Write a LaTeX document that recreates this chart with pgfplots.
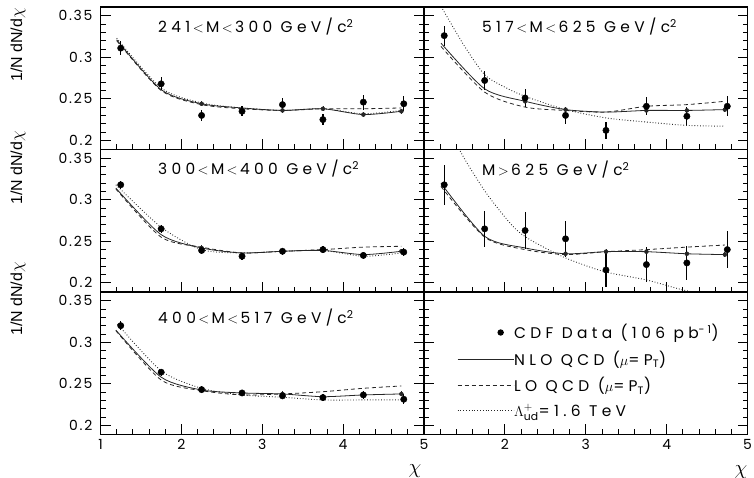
\documentclass[border=0pt]{standalone}
\usepackage{pgfplots}
\pgfplotsset{compat=1.18}
\usepackage{fontspec}
\setmainfont{Poppins}[LetterSpace=28]
\newfontfamily\tickfont{Poppins}[LetterSpace=12]
\newfontfamily\titlefont{Poppins}[LetterSpace=28]
\newfontfamily\helv{Liberation Sans}
\pgfplotsset{
  panel/.style={scale only axis, width=323.5bp, height=142.5bp,
    xmin=1, xmax=5, ymin=0.189, ymax=0.3605, anchor=south west,
    axis line style={line width=1.2bp},
    tick style={black, line width=0.8bp},
    major tick length=10bp, minor tick length=5bp, tick align=inside,
    xtick={1,2,3,4,5}, ytick={0.2,0.25,0.3,0.35},
    minor x tick num=4, minor y tick num=4,
    xtick pos=left, ytick pos=both,
    xticklabels={}, yticklabels={},
    xticklabel style={font=\tickfont\fontsize{14}{14}\selectfont, inner sep=0pt, anchor=north, yshift=-5bp},
    yticklabel style={font=\tickfont\fontsize{14}{14}\selectfont, inner sep=0pt, anchor=east, xshift=-8bp},
    clip=true},
  dat/.style={black, only marks, mark=*, mark size=3.2bp,
    error bars/.cd, y dir=both, y explicit, error mark=none,
    error bar style={line width=1.2bp}},
  nlo/.style={black!85, line width=0.8bp, smooth, tension=0.45, mark=none},
  nloe/.style={black!85, only marks, mark=none, error bars/.cd, y dir=both, y fixed=0.003, error mark=none, error bar style={line width=0.8bp}},
  lo/.style={black!85, line width=0.8bp, smooth, tension=0.45, mark=none, dash pattern=on 4bp off 3bp},
  ci/.style={black!85, line width=0.9bp, smooth, tension=0.45, mark=none, dash pattern=on 0.8bp off 2bp},
}
\begin{document}
\begin{tikzpicture}[x=1bp,y=1bp]
\path[use as bounding box] (0,0) rectangle (754,478);
% ---------- top left: 241<M<300
\begin{axis}[panel, at={(100.5bp,328.5bp)}, yticklabels={0.2,0.25,0.3,0.35}]
\addplot[ci] table {
1.2 0.323
1.75 0.263
2.25 0.245
2.75 0.239
3.25 0.236
3.75 0.238
4.25 0.232
4.72 0.236
};
\addplot[lo] table {
1.2 0.320
1.75 0.260
2.25 0.243
2.75 0.238
3.25 0.236
3.75 0.238
4.25 0.238
4.72 0.239
};
\addplot[nlo] table {
1.2 0.321
1.75 0.261
2.25 0.244
2.75 0.239
3.25 0.236
3.75 0.238
4.25 0.231
4.72 0.235
};
\addplot[nloe] table {
2.25 0.244
3.25 0.236
3.75 0.238
4.25 0.231
4.72 0.235
};
\addplot[dat] table[x=x, y=y, y error=e] {
x y e
1.25 0.311 0.008
1.75 0.268 0.008
2.25 0.230 0.007
2.75 0.235 0.006
3.25 0.243 0.008
3.75 0.225 0.007
4.25 0.246 0.009
4.75 0.244 0.009
};
\end{axis}
% ---------- top right: 517<M<625
\begin{axis}[panel, at={(424bp,328.5bp)}]
\addplot[ci] table {
1.23 0.358
1.49 0.315
1.75 0.279
2.0 0.264
2.25 0.253
2.75 0.237
3.25 0.227
3.75 0.222
4.25 0.218
4.72 0.217
};
\addplot[lo] table {
1.21 0.313
1.75 0.258
2.25 0.240
2.75 0.236
3.25 0.234
3.75 0.241
4.25 0.243
4.72 0.247
};
\addplot[nlo] table {
1.21 0.317
1.75 0.262
2.25 0.247
2.75 0.237
3.25 0.234
3.75 0.236
4.25 0.236
4.72 0.237
};
\addplot[nloe] table {
2.25 0.247
2.75 0.237
3.75 0.236
4.25 0.236
4.72 0.237
};
\addplot[dat] table[x=x, y=y, y error=e] {
x y e
1.25 0.326 0.012
1.75 0.272 0.011
2.25 0.251 0.011
2.75 0.230 0.010
3.25 0.212 0.0105
3.75 0.241 0.011
4.25 0.229 0.011
4.75 0.241 0.012
};
\end{axis}
% ---------- middle left: 300<M<400
\begin{axis}[panel, at={(100.5bp,186bp)}, yticklabels={0.2,0.25,0.3,0.35}]
\addplot[ci] table {
1.19 0.318
1.75 0.267
2.25 0.240
2.75 0.236
3.25 0.238
3.75 0.239
4.25 0.232
4.72 0.236
};
\addplot[lo] table {
1.19 0.313
1.75 0.255
2.25 0.243
2.75 0.236
3.25 0.238
3.75 0.240
4.25 0.243
4.72 0.244
};
\addplot[nlo] table {
1.19 0.314
1.75 0.258
2.25 0.242
2.75 0.236
3.25 0.238
3.75 0.239
4.25 0.234
4.72 0.238
};
\addplot[nloe] table {
2.25 0.242
3.25 0.238
3.75 0.239
4.25 0.234
4.72 0.238
};
\addplot[dat] table[x=x, y=y, y error=e] {
x y e
1.25 0.318 0.005
1.75 0.265 0.005
2.25 0.239 0.004
2.75 0.232 0.004
3.25 0.238 0.004
3.75 0.240 0.004
4.25 0.233 0.004
4.75 0.237 0.005
};
\end{axis}
% ---------- middle right: M>625
\begin{axis}[panel, at={(424bp,186bp)}]
\addplot[ci] table {
1.30 0.400
1.44 0.360
1.77 0.308
2.10 0.268
2.31 0.252
2.75 0.230
3.23 0.2135
3.75 0.2035
4.20 0.1915
4.50 0.186
4.72 0.182
};
\addplot[lo] table {
1.21 0.316
1.75 0.255
2.25 0.240
2.75 0.234
3.25 0.2375
3.75 0.240
4.25 0.243
4.72 0.2455
};
\addplot[nlo] table {
1.21 0.320
1.75 0.256
2.25 0.242
2.75 0.235
3.25 0.2375
3.75 0.2375
4.25 0.235
4.72 0.234
};
\addplot[nloe] table {
2.75 0.235
3.25 0.2375
3.75 0.2375
4.25 0.235
4.72 0.234
};
\addplot[dat] table[x=x, y=y, y error=e] {
x y e
1.25 0.318 0.024
1.75 0.265 0.022
2.25 0.263 0.022
2.75 0.253 0.022
3.25 0.2155 0.020
3.75 0.222 0.021
4.25 0.224 0.020
4.75 0.240 0.022
};
\end{axis}
% ---------- bottom left: 400<M<517
\begin{axis}[panel, at={(100.5bp,43.5bp)}, yticklabels={0.2,0.25,0.3,0.35}, xticklabels={1,2,3,4,5}]
\addplot[ci] table {
1.21 0.3218
1.75 0.2657
2.25 0.2446
2.75 0.2366
3.25 0.2338
3.75 0.2306
4.25 0.2306
4.72 0.2306
};
\addplot[lo] table {
1.19 0.314
1.75 0.2546
2.25 0.2418
2.75 0.2366
3.25 0.2378
3.75 0.2405
4.25 0.2446
4.72 0.2474
};
\addplot[nlo] table {
1.19 0.3146
1.75 0.258
2.25 0.2426
2.75 0.239
3.25 0.2378
3.75 0.2345
4.25 0.2366
4.72 0.2378
};
\addplot[nloe] table {
3.25 0.2378
3.75 0.2345
4.25 0.2366
4.72 0.2378
};
\addplot[dat] table[x=x, y=y, y error=e] {
x y e
1.25 0.320 0.005
1.75 0.264 0.004
2.25 0.243 0.004
2.75 0.239 0.004
3.25 0.2355 0.004
3.75 0.2334 0.004
4.25 0.2366 0.005
4.75 0.2314 0.006
};
\end{axis}
% ---------- bottom right: legend
\begin{axis}[panel, at={(424bp,43.5bp)}, xticklabels={,2,3,4,5},
  legend style={at={(0.102,0.78)}, anchor=north west, draw=none, fill=none,
    inner sep=0pt, row sep=8.5bp, font=\fontsize{15.5}{16}\selectfont,
    nodes={inner sep=1bp},
    /tikz/every odd column/.append style={column sep=-1bp}},
  legend cell align=left]
\addlegendimage{legend image code/.code={\path[draw=none, fill=none] (0bp,0bp) -- (56bp,0bp); \fill[black, draw=none] (43bp,0bp) circle (3.2bp);}}
\addlegendentry{CDF Data (106 pb\textsuperscript{-1})}
\addlegendimage{legend image code/.code={\draw[black!85, line width=0.8bp] (0bp,0bp) -- (56bp,0bp);}}
\addlegendentry{NLO QCD ($\mu$=P\textsubscript{T})}
\addlegendimage{legend image code/.code={\draw[black!85, line width=0.8bp, dash pattern=on 4bp off 3bp] (0bp,0bp) -- (56bp,0bp);}}
\addlegendentry{LO QCD ($\mu$=P\textsubscript{T})}
\addlegendimage{legend image code/.code={\draw[black!85, line width=0.9bp, dash pattern=on 0.8bp off 2bp] (0bp,0bp) -- (56bp,0bp);}}
\addlegendentry{$\Lambda^{+}_{\mathrm{ud}}$=1.6 TeV}
\end{axis}
% ---------- titles and labels
\begin{scope}[every node/.style={font=\titlefont\fontsize{15.5}{15.5}\selectfont, inner sep=0pt, anchor=base west}]
\node at (158,445) {241$\,<\,$M$\,<\,$300 GeV/c\textsuperscript{2}};
\node at (482,445) {517$\,<\,$M$\,<\,$625 GeV/c\textsuperscript{2}};
\node at (158,303) {300$\,<\,$M$\,<\,$400 GeV/c\textsuperscript{2}};
\node at (482,302) {M$\,>\,$625 GeV/c\textsuperscript{2}};
\node at (158,154) {400$\,<\,$M$\,<\,$517 GeV/c\textsuperscript{2}};
\end{scope}
\begin{scope}[every node/.style={font=\helv\fontsize{16}{16}\selectfont, inner sep=0pt, rotate=90}]
\node at (18,433) {1/N dN/d$\chi$};
\node at (18,310) {1/N dN/d$\chi$};
\node at (18,179) {1/N dN/d$\chi$};
\end{scope}
\node[font=\fontsize{20}{20}\selectfont, inner sep=0pt] at (415,7) {$\chi$};
\node[font=\fontsize{20}{20}\selectfont, inner sep=0pt] at (741,6) {$\chi$};
\end{tikzpicture}
\end{document}
